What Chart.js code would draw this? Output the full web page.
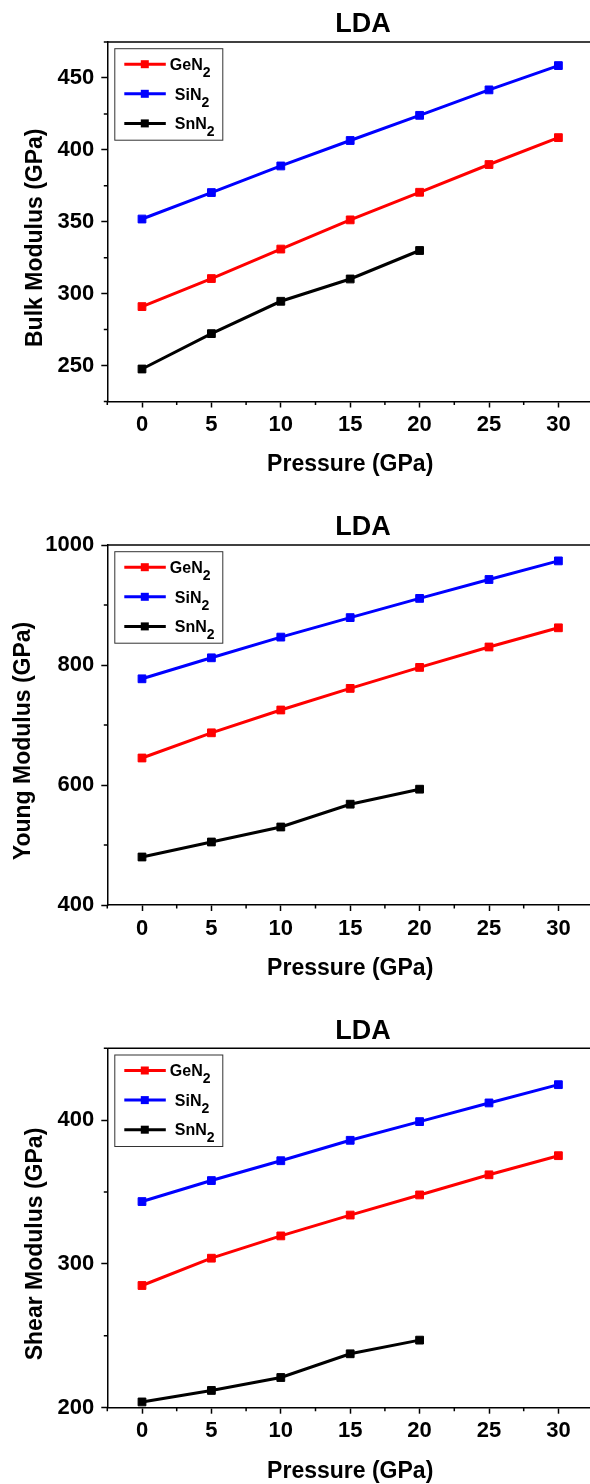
<!DOCTYPE html>
<html>
<head>
<meta charset="utf-8">
<script src="https://cdn.jsdelivr.net/npm/chart.js@4.4.0/dist/chart.umd.min.js"></script>
<style>
  html, body { margin: 0; padding: 0; background: #fff; overflow: hidden; width: 590px; height: 1484px; }
  canvas { position: absolute; left: 0; }
</style>
</head>
<body>
<canvas id="bulk" width="600" height="480" style="top:0px"></canvas>
<canvas id="young" width="600" height="505" style="top:480px"></canvas>
<canvas id="shear" width="600" height="514" style="top:970px"></canvas>
<script>
const pressure = [0, 5, 10, 15, 20, 25, 30];
const materials = ["GeN₂", "SiN₂", "SnN₂"];
const colors = ["#ff0000", "#0000ff", "#000000"];

// Bulk modulus (GPa)
const bulkGe = [291, 310.5, 331, 351.3, 370.5, 389.8, 408.5];
const bulkSi = [351.9, 370.3, 388.8, 406.5, 424, 441.7, 458.6];
const bulkSn = [247.6, 272.2, 294.7, 310.2, 330];

// Young modulus (GPa)
const youngGe = [645, 687, 725, 761, 796, 830, 862];
const youngSi = [777, 812, 846.5, 879, 911, 942.5, 973.5];
const youngSn = [480, 505, 530, 568, 593];

// Shear modulus (GPa)
const shearGe = [285, 304, 319.5, 334, 348, 362, 375.3];
const shearSi = [343.4, 358, 371.8, 386, 399, 412, 424.7];
const shearSn = [204, 212, 221, 237.5, 247];

const xTicks = [0, 5, 10, 15, 20, 25, 30];
const bulkTicks = [250, 300, 350, 400, 450];
const youngTicks = [400, 600, 800, 1000];
const shearTicks = [200, 300, 400];

const FONT = "'Liberation Sans', Arial, sans-serif";

// half-step ticks between the labelled ones
function minorOf(ticks, min, max) {
  const step = ticks[1] - ticks[0];
  const out = [];
  for (let v = ticks[0] - step / 2; v <= max + 1e-9; v += step) {
    if (v >= min - 1e-9) out.push(v);
  }
  return out;
}

const decor = {
  id: "decor",
  afterDraw(chart, args, opts) {
    const { ctx, chartArea: a, scales } = chart;
    const x = scales.x, y = scales.y;
    ctx.save();
    ctx.strokeStyle = "#000";
    ctx.lineWidth = 1.5;

    // top frame line
    ctx.beginPath();
    ctx.moveTo(a.left, a.top);
    ctx.lineTo(a.right, a.top);
    ctx.stroke();

    // minor ticks
    ctx.beginPath();
    minorOf(xTicks, x.min, x.max).forEach(v => {
      const px = x.getPixelForValue(v);
      ctx.moveTo(px, a.bottom);
      ctx.lineTo(px, a.bottom + 3.5);
    });
    minorOf(opts.yTicks, y.min, y.max).forEach(v => {
      const py = y.getPixelForValue(v);
      ctx.moveTo(a.left, py);
      ctx.lineTo(a.left - 3.5, py);
    });
    ctx.stroke();

    // chart title
    ctx.fillStyle = "#000";
    ctx.textAlign = "center";
    ctx.textBaseline = "middle";
    ctx.font = `bold 27px ${FONT}`;
    ctx.fillText(opts.title, opts.titleX, a.top - 17);

    // y axis title
    ctx.save();
    ctx.translate(opts.yTitleX, (a.top + a.bottom) / 2 + 16);
    ctx.rotate(-Math.PI / 2);
    ctx.font = `bold 23px ${FONT}`;
    ctx.fillText(opts.yTitle, 0, 0);
    ctx.restore();

    // legend
    const bx = a.left + 7.5, by = a.top + 6.7;
    ctx.lineWidth = 1;
    ctx.strokeStyle = "#333";
    ctx.strokeRect(bx, by, 108, 91.5);
    ctx.textAlign = "left";
    ctx.textBaseline = "alphabetic";
    chart.data.datasets.forEach((ds, i) => {
      const ly = by + 15.5 + i * 29.6;
      ctx.strokeStyle = ds.borderColor;
      ctx.fillStyle = ds.borderColor;
      ctx.lineWidth = 3;
      ctx.beginPath();
      ctx.moveTo(bx + 9.5, ly);
      ctx.lineTo(bx + 51, ly);
      ctx.stroke();
      ctx.fillRect(bx + 26, ly - 4, 8, 8);

      ctx.fillStyle = "#000";
      let tx = bx + opts.legendTextX[i];
      for (const ch of ds.label) {
        if (ch === "₂") {
          ctx.font = `bold 14px ${FONT}`;
          ctx.fillText("2", tx, ly + 12.7);
          tx += ctx.measureText("2").width;
        } else {
          ctx.font = `bold 16px ${FONT}`;
          ctx.fillText(ch, tx, ly + 5.7);
          tx += ctx.measureText(ch).width;
        }
      }
    });
    ctx.restore();
  }
};

function makeChart(id, series, yMin, yMax, yTicks, yTitle, yTitleX, padTop, padBottom) {
  const datasets = series.map((vals, i) => ({
    label: materials[i],
    data: vals.map((v, j) => ({ x: pressure[j], y: v })),
    borderColor: colors[i],
    backgroundColor: colors[i],
    pointBackgroundColor: colors[i],
    pointBorderColor: colors[i],
    borderWidth: 3,
    pointStyle: "rect",
    pointRadius: 5.5,
    pointBorderWidth: 1,
    tension: 0,
  }));

  const tickFont = { family: FONT, size: 22, weight: "bold", lineHeight: 1 };

  return new Chart(document.getElementById(id), {
    type: "line",
    data: { datasets },
    options: {
      responsive: false,
      animation: false,
      devicePixelRatio: 1,
      layout: { padding: { top: padTop, bottom: padBottom, left: 0, right: 6.9 } },
      plugins: {
        legend: { display: false },
        tooltip: { enabled: false },
        decor: {
          title: "LDA",
          titleX: 363,
          yTitle,
          yTitleX,
          yTicks,
          legendTextX: [55, 60, 60],
        },
      },
      scales: {
        x: {
          type: "linear",
          min: -2.5,
          max: 32.5,
          afterBuildTicks: (s) => { s.ticks = xTicks.map((v) => ({ value: v })); },
          afterFit: (s) => { s.height = 75; },
          grid: { drawOnChartArea: false, tickLength: 6, tickWidth: 1.5, tickColor: "#000" },
          border: { color: "#000", width: 1.5 },
          ticks: { color: "#000", font: tickFont, padding: 6.5, maxRotation: 0, autoSkip: false },
          title: {
            display: true,
            text: "Pressure (GPa)",
            color: "#000",
            font: { family: FONT, size: 23, weight: "bold", lineHeight: 1 },
            padding: { top: 0, bottom: 0 },
          },
        },
        y: {
          min: yMin,
          max: yMax,
          afterBuildTicks: (s) => { s.ticks = yTicks.map((v) => ({ value: v })); },
          afterFit: (s) => { s.width = 107.3; },
          grid: { drawOnChartArea: false, tickLength: 6, tickWidth: 1.5, tickColor: "#000" },
          border: { color: "#000", width: 1.5 },
          ticks: { color: "#000", font: tickFont, padding: 7, callback: (v) => String(v) },
        },
      },
    },
    plugins: [decor],
  });
}

makeChart("bulk", [bulkGe, bulkSi, bulkSn], 225, 475, bulkTicks, "Bulk Modulus (GPa)", 36, 42, 3.5);
makeChart("young", [youngGe, youngSi, youngSn], 400, 1000, youngTicks, "Young Modulus (GPa)", 23.6, 65, 5);
makeChart("shear", [shearGe, shearSi, shearSn], 200, 450, shearTicks, "Shear Modulus (GPa)", 36, 78.3, 1.3);
</script>
</body>
</html>
